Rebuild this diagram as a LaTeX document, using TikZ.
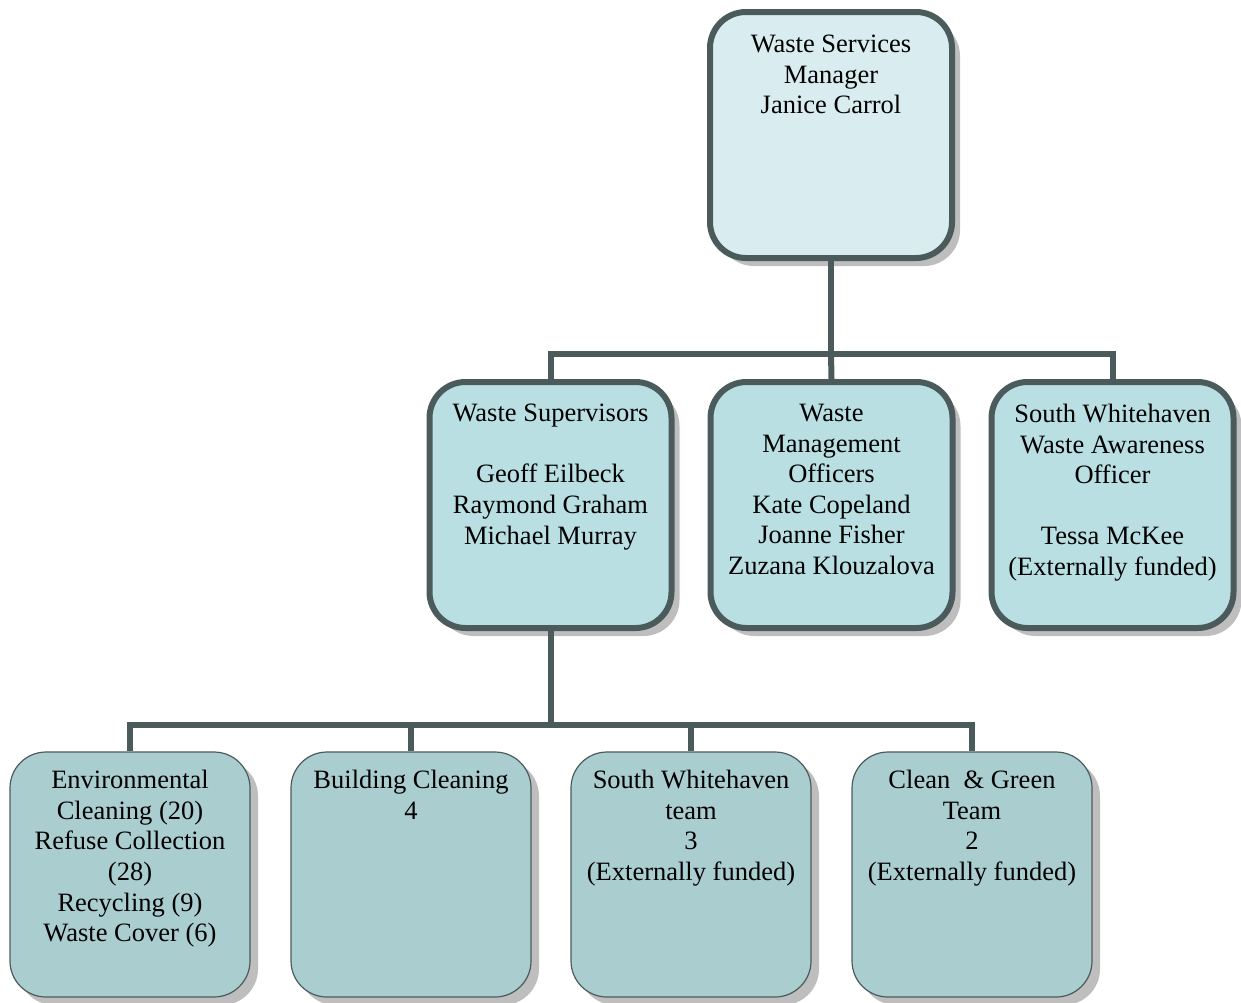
\documentclass[tikz,border=0pt]{standalone}
\usepackage{fontspec}
\setmainfont{Liberation Serif}
\usetikzlibrary{shadows}
\definecolor{bord}{HTML}{4B5A5A}
\definecolor{topfill}{HTML}{D9EDF0}
\definecolor{midfill}{HTML}{B9DFE3}
\definecolor{lowfill}{HTML}{AACDD0}
\definecolor{shad}{HTML}{BEBEBE}
\tikzset{
  boxbase/.style={rectangle, rounded corners=36pt, minimum width=242pt, minimum height=246pt, inner sep=0pt,
    drop shadow={shadow xshift=8pt, shadow yshift=-8pt, fill=shad, opacity=1}},
  topbox/.style={boxbase, draw=bord, line width=6pt, fill=topfill},
  midbox/.style={boxbase, draw=bord, line width=6pt, fill=midfill},
  lowbox/.style={boxbase, draw=bord, line width=1.2pt, fill=lowfill, minimum width=240pt, minimum height=245pt},
  txt/.style={anchor=north, align=center, inner sep=0pt, font=\fontsize{26.5}{30.6}\selectfont},
  conn/.style={draw=bord, line width=6pt}
}
\begin{document}
\begin{tikzpicture}[x=1pt,y=-1pt]
\useasboundingbox (0,0) rectangle (1241,1002);
% boxes
\node[topbox] (top) at (831,135) {};
\node[midbox] (s1) at (550.5,505) {};
\node[midbox] (s2) at (831.5,505) {};
\node[midbox] (s3) at (1112.5,505) {};
\node[lowbox] (b1) at (130,874.5) {};
\node[lowbox] (b2) at (411,874.5) {};
\node[lowbox] (b3) at (691,874.5) {};
\node[lowbox] (b4) at (972,874.5) {};
% texts
\node[txt] (ttop) at (831,35) {Waste Services\\Manager\\Janice Carrol};
\node[txt] (ts1) at (550.5,404) {Waste Supervisors\\[30.6pt]Geoff Eilbeck\\Raymond Graham\\Michael Murray};
\node[txt] (ts2) at (831.5,404) {Waste\\Management\\Officers\\Kate Copeland\\Joanne Fisher\\Zuzana Klouzalova};
\node[txt] (ts3) at (1112.5,404) {South Whitehaven\\Waste Awareness\\Officer\\[30.6pt]Tessa McKee\\(Externally funded)};
\node[txt] (tb1) at (130,770) {Environmental\\Cleaning (20)\\Refuse Collection\\(28)\\Recycling (9)\\Waste Cover (6)};
\node[txt] (tb2) at (411,770) {Building Cleaning\\4};
\node[txt] (tb3) at (691,770) {South Whitehaven\\team\\3\\(Externally funded)};
\node[txt] (tb4) at (972,770) {Clean~ \& Green\\Team\\2\\(Externally funded)};
% connectors
\coordinate (j1) at (831,354);
\coordinate (j2) at (550.5,725);
\draw[conn] (top.south) -- (j1);
\draw[conn] (j1) -| (s1.north);
\draw[conn] (j1) -| (s3.north);
\draw[conn] (j1) -- (s2.north);
\draw[conn] (s1.south) -- (j2);
\draw[conn] (j2) -| (b1.north);
\draw[conn] (j2) -| (b2.north);
\draw[conn] (j2) -| (b3.north);
\draw[conn] (j2) -| (b4.north);
\end{tikzpicture}
\end{document}
